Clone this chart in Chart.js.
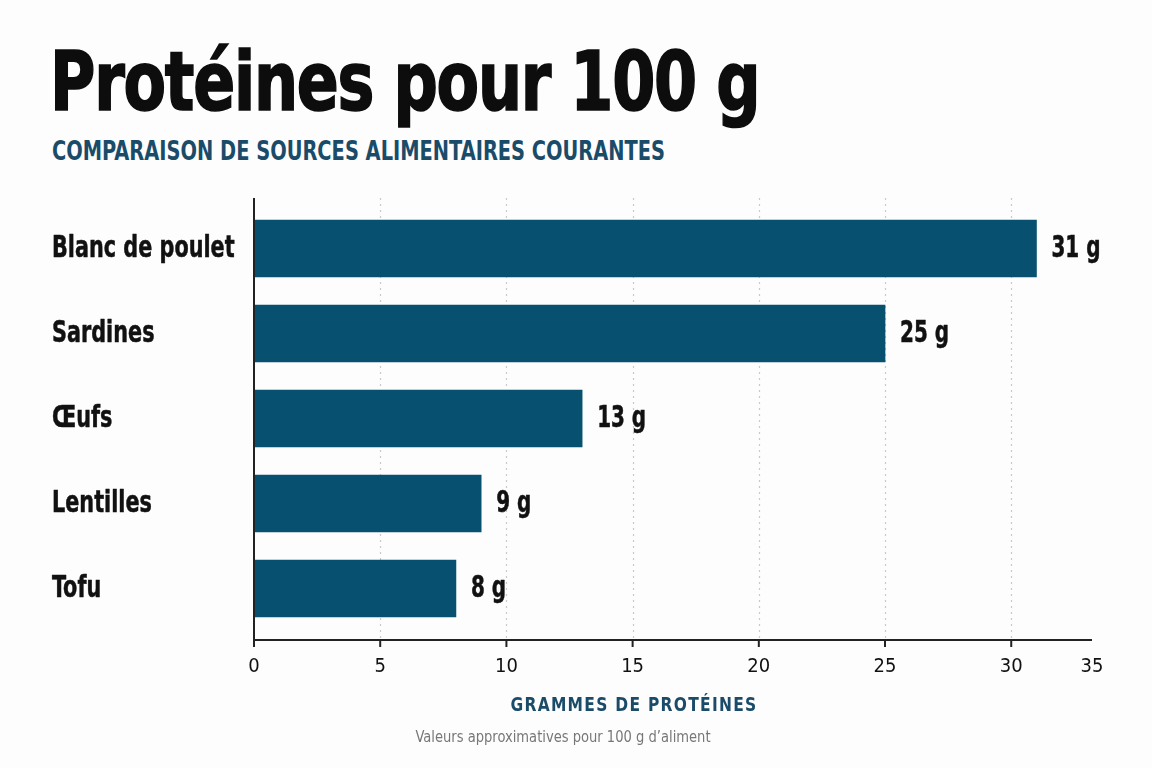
<!DOCTYPE html>
<html lang="fr">
<head>
<meta charset="utf-8">
<title>Protéines pour 100 g</title>
<script src="https://cdn.jsdelivr.net/npm/chart.js@4.4.1/dist/chart.umd.min.js"></script>
<style>
  html, body { margin: 0; padding: 0; background: #fdfdfd; }
  body { width: 1152px; height: 768px; position: relative; overflow: hidden;
         font-family: "DejaVu Sans Condensed", "Liberation Sans Narrow", sans-serif; }
  #titre { position: absolute; left: 50px; top: 41px; font-size: 82px; font-weight: bold;
           color: #0d0d0d; line-height: 1; letter-spacing: -1.5px; white-space: nowrap;
           -webkit-text-stroke: 1.6px #0d0d0d;
           transform: scaleX(0.84); transform-origin: left top; }
  #sousTitre { position: absolute; left: 52px; top: 138px; font-size: 26px; font-weight: bold;
               color: #1a4c6a; line-height: 1; white-space: nowrap;
               transform: scaleX(0.83); transform-origin: left top; }
  #axeTitre { position: absolute; left: 0; width: 1268px; text-align: center; top: 694px;
              font-size: 20px; font-weight: bold; color: #1a4c6a; letter-spacing: 1.5px; line-height: 1;
              transform: scaleX(0.86); transform-origin: 634px 0; }
  #note { position: absolute; left: 0; width: 1126px; text-align: center; top: 729px;
          font-size: 16px; color: #777; line-height: 1;
          transform: scaleX(0.91); transform-origin: 563px 0; }
  canvas { position: absolute; left: 0; top: 0; }
</style>
</head>
<body>
<div id="titre">Protéines pour 100 g</div>
<div id="sousTitre">COMPARAISON DE SOURCES ALIMENTAIRES COURANTES</div>
<canvas id="proteinChart" width="1152" height="768"></canvas>
<div id="axeTitre">GRAMMES DE PROTÉINES</div>
<div id="note">Valeurs approximatives pour 100 g d’aliment</div>

<script>
// Données
const aliments = ['Blanc de poulet', 'Sardines', 'Œufs', 'Lentilles', 'Tofu'];
const proteines = [31, 25, 13, 9, 8];
const valeursTicks = [0, 5, 10, 15, 20, 25, 30];
const etiquettesTicks = ['0', '5', '10', '15', '20', '25', '30', '35'];
const xMax = 33.2;

const couleurBarre = '#08506f';
const policeEtroite = '"DejaVu Sans Condensed", "Liberation Sans Narrow", sans-serif';

// Texte compressé horizontalement (pas de police condensée grasse dispo)
function texteEtroit(ctx, texte, x, y, echelle) {
    ctx.save();
    ctx.translate(x, y);
    ctx.scale(echelle, 1);
    ctx.strokeText(texte, 0, 0);
    ctx.fillText(texte, 0, 0);
    ctx.restore();
}

// Grille pointillée, axes, catégories et valeurs en bout de barre
const decorPlugin = {
    id: 'decor',
    beforeDatasetsDraw(chart) {
        const { ctx, chartArea, scales } = chart;
        const top = chartArea.top - 8, bottom = chartArea.bottom + 9;
        ctx.save();
        ctx.strokeStyle = '#c9c9c9';
        ctx.lineWidth = 1.2;
        ctx.setLineDash([2, 4]);
        valeursTicks.slice(1).forEach(v => {
            const x = Math.round(scales.x.getPixelForValue(v)) + 0.5;
            ctx.beginPath();
            ctx.moveTo(x, top);
            ctx.lineTo(x, bottom);
            ctx.stroke();
        });
        ctx.restore();
    },
    afterDatasetsDraw(chart) {
        const { ctx, chartArea, scales } = chart;
        const top = chartArea.top - 8, bottom = chartArea.bottom + 9;
        const x0 = scales.x.getPixelForValue(0);
        const xEnd = scales.x.getPixelForValue(xMax);
        ctx.save();
        ctx.strokeStyle = '#222';
        ctx.lineWidth = 2;
        ctx.beginPath();
        ctx.moveTo(x0, top);
        ctx.lineTo(x0, bottom);
        ctx.lineTo(xEnd, bottom);
        ctx.stroke();
        valeursTicks.forEach(v => {
            const x = scales.x.getPixelForValue(v);
            ctx.beginPath();
            ctx.moveTo(x, bottom);
            ctx.lineTo(x, bottom + 7);
            ctx.stroke();
        });

        ctx.fillStyle = '#111';
        ctx.strokeStyle = '#111';
        ctx.lineWidth = 0.5;
        ctx.lineJoin = 'round';
        ctx.font = 'bold 30px ' + policeEtroite;
        ctx.textBaseline = 'middle';
        ctx.textAlign = 'left';
        // catégories
        aliments.forEach((nom, i) => {
            texteEtroit(ctx, nom, 52, scales.y.getPixelForValue(i) + 1, 0.77);
        });
        // valeurs
        chart.getDatasetMeta(0).data.forEach((bar, i) => {
            texteEtroit(ctx, proteines[i] + ' g', bar.x + 15, bar.y + 1, 0.74);
        });
        ctx.restore();
    }
};

new Chart(document.getElementById('proteinChart'), {
    type: 'bar',
    data: {
        labels: aliments,
        datasets: [{
            data: proteines,
            backgroundColor: couleurBarre,
            borderWidth: 0,
            barThickness: 57
        }]
    },
    options: {
        indexAxis: 'y',
        responsive: false,
        animation: false,
        layout: { padding: { left: 52, top: 206, right: 60, bottom: 0 } },
        plugins: {
            legend: { display: false },
            tooltip: { enabled: false }
        },
        scales: {
            x: {
                type: 'linear',
                min: 0,
                max: xMax,
                grid: { display: false },
                border: { display: false },
                afterBuildTicks: scale => {
                    scale.ticks = valeursTicks.concat([xMax]).map(v => ({ value: v }));
                },
                afterFit: scale => { scale.height = 137; },
                ticks: {
                    padding: 16,
                    color: '#111',
                    font: { family: policeEtroite, size: 20 },
                    maxRotation: 0,
                    autoSkip: false,
                    callback: (value, index) => etiquettesTicks[index]
                }
            },
            y: {
                grid: { display: false },
                border: { display: false },
                afterFit: scale => { scale.width = 202; },
                ticks: { display: false }
            }
        }
    },
    plugins: [decorPlugin]
});
</script>
</body>
</html>
